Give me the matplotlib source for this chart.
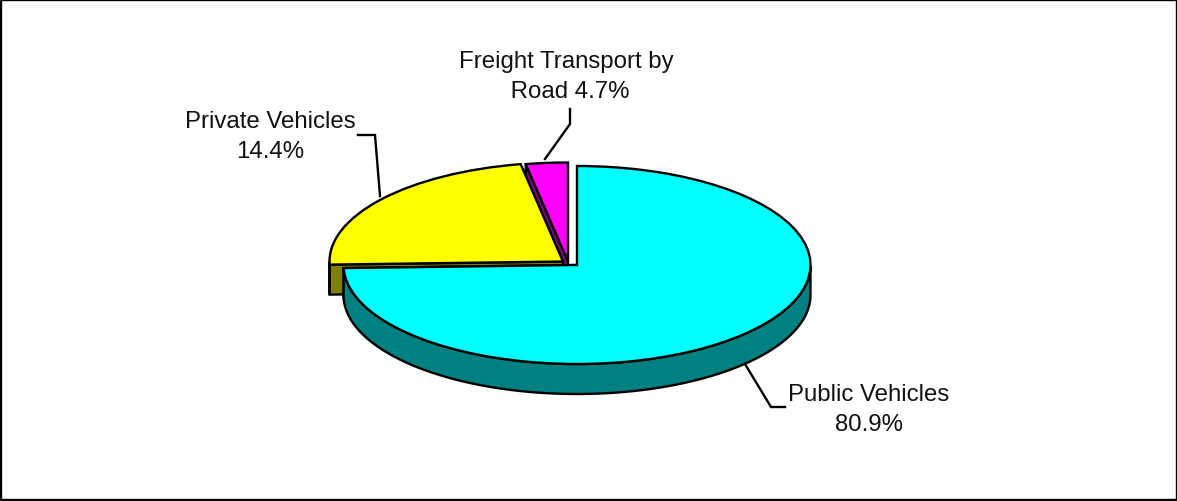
import numpy as np
import matplotlib
matplotlib.use('Agg')
from matplotlib import pyplot as plt

# labels are what the chart prints, shares are what the slices actually look like
names = ['Public Vehicles', 'Private Vehicles', 'Freight Transport by\n Road']
printed_pct = ['80.9%', '14.4%', '4.7%']
drawn_share = [74.5, 22.6, 2.9]
top_colors = ['#00FFFF', '#FFFF00', '#FF00FF']
side_colors = ['#008080', '#808000', '#800080']

W, H = 1177, 502
RX, RY = 233.5, 99.0       # pie ellipse, pixels
CX, CY = 577, 266          # pie centre, pixels
DEPTH = 30 / RY
LW = 1.7

plt.rcParams['font.family'] = ['Liberation Sans', 'DejaVu Sans']

fig = plt.figure(figsize=(W / 100, H / 100), dpi=100, facecolor='white')
ax = fig.add_axes([0, 0, 1, 1])
wedges, _ = ax.pie(drawn_share, colors=top_colors, startangle=90, counterclock=False,
                   wedgeprops={'edgecolor': 'k', 'lw': LW})
ax.set_aspect('auto')
ax.set_xlim(-CX / RX, (W - CX) / RX)
ax.set_ylim(-(H - CY) / RY, CY / RY)

# pull slices out of the centre a bit
offsets = [(0, 0), (-14 / RX, 3.5 / RY), (-9 / RX, 3.5 / RY)]
z_order = [6, 4, 2]

for i, (w, off, side, z) in enumerate(zip(wedges, offsets, side_colors, z_order)):
    w.set_center(off)
    w.set_zorder(z)
    # cut face on the left edge of the slice
    a = np.radians(w.theta1 if i == 0 else w.theta2)
    ex, ey = off[0] + np.cos(a), off[1] + np.sin(a)
    ax.fill([off[0], ex, ex, off[0]], [off[1], ey, ey - DEPTH, off[1] - DEPTH],
            facecolor=side, edgecolor='k', lw=LW, joinstyle='miter', zorder=z - 1)
    # outer rim, only the part facing the viewer
    t = np.radians(np.linspace(w.theta1, w.theta2, 300))
    t = t[np.sin(t) <= 0]
    if len(t) > 1:
        x = off[0] + np.cos(t)
        y = off[1] + np.sin(t)
        ax.fill(np.r_[x, x[::-1]], np.r_[y, y[::-1] - DEPTH],
                facecolor=side, edgecolor='k', lw=LW, zorder=z - 1)

# overlay in pixels for the labels and leader lines
ov = fig.add_axes([0, 0, 1, 1], facecolor='none')
ov.set_xlim(0, W)
ov.set_ylim(H, 0)
ov.axis('off')

leaders = [
    ([745, 771, 785], [365, 408, 408]),
    ([380, 375, 358], [197, 136, 136]),
    ([545, 570, 570], [160, 125, 110]),
]
label_pos = [(869, 410), (270, 137), (566.5, 77)]

for lx, ly in leaders:
    ov.plot(lx, ly, color='k', lw=LW, solid_joinstyle='miter')
for name, pct, (tx, ty) in zip(names, printed_pct, label_pos):
    sep = ' ' if name.endswith('Road') else '\n'
    ov.text(tx, ty, name + sep + pct, ha='center', va='center', fontsize=17.3,
            linespacing=1.42, color='#111111')

# chart area border
ov.plot([1, W - 0.5, W - 0.5, 1, 1], [1, 1, H - 1, H - 1, 1], color='k', lw=LW, clip_on=False)

fig.savefig('out.png', dpi=100)
